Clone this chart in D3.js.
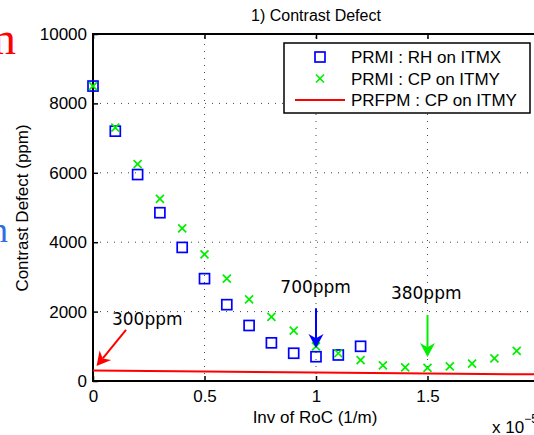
<!DOCTYPE html>
<html>
<head>
<meta charset="utf-8">
<script src="https://cdn.jsdelivr.net/npm/d3@7"></script>
<style>
  body { margin: 0; background: #fff; }
  svg { display: block; }
  text { font-family: "Liberation Sans", Arial, Helvetica, sans-serif; }
</style>
</head>
<body>
<div id="chart"></div>
<script>
// PRMI : RH on ITMX (blue squares)
const invRoCRH = [0, 0.1, 0.2, 0.3, 0.4, 0.5, 0.6, 0.7, 0.8, 0.9, 1.0, 1.1, 1.2];
const defectRH = [8500, 7200, 5950, 4850, 3850, 2950, 2200, 1600, 1100, 800, 700, 750, 1000];

// PRMI : CP on ITMY (green crosses)
const invRoCCP = [0, 0.1, 0.2, 0.3, 0.4, 0.5, 0.6, 0.7, 0.8, 0.9, 1.0, 1.1, 1.2, 1.3, 1.4, 1.5, 1.6, 1.7, 1.8, 1.9];
const defectCP = [8500, 7300, 6250, 5250, 4400, 3650, 2950, 2350, 1850, 1450, 1000, 800, 600, 450, 390, 380, 420, 500, 650, 870];

// PRFPM : CP on ITMY (red line)
const invRoCFP = [0, 0.5, 1.0, 1.5, 2.0];
const defectFP = [300, 275, 245, 215, 190];

const xTicks = [0, 0.5, 1, 1.5, 2];
const xTickLabels = ["0", "0.5", "1", "1.5", ""]; // "2" falls outside the window
const yTicks = [0, 2000, 4000, 6000, 8000, 10000];
const legendLabels = ["PRMI : RH on ITMX", "PRMI : CP on ITMY", "PRFPM : CP on ITMY"];

// annotations: label, label anchor, arrow start, arrow tip (data units)
const notes = [
  { text: "300ppm", at: [0.085, 1600], from: [0.148, 1470], to: [0.016, 430], color: "#ff0000" },
  { text: "700ppm", at: [0.84, 2530], from: [1.0, 2100], to: [1.0, 950], color: "#0000ff" },
  { text: "380ppm", at: [1.336, 2350], from: [1.5, 1900], to: [1.5, 690], color: "#00ee00" }
];

let width = 534,
  height = 435,
  margin = { top: 34, left: 93, bottom: 54 };

const svg = d3
  .select("#chart")
  .append("svg")
  .attr("width", width)
  .attr("height", height);

let x = d3.scaleLinear().domain([0, 2]).range([margin.left, 539]);
let y = d3
  .scaleLinear()
  .domain([0, 10000])
  .range([height - margin.bottom, margin.top]);

// cut-off words from the neighbouring slide text
svg.append("text").text("m").attr("x", 16).attr("y", 54)
  .attr("text-anchor", "end").attr("fill", "#ff0000")
  .style("font-family", "'Liberation Serif', 'Times New Roman', serif")
  .style("font-size", "46px");
svg.append("text").text("n").attr("x", 8).attr("y", 242)
  .attr("text-anchor", "end").attr("fill", "#2f6fe6")
  .style("font-family", "'Liberation Serif', 'Times New Roman', serif")
  .style("font-size", "36px");

// dotted grid
svg.append("g")
  .selectAll("line")
  .data(xTicks.slice(1))
  .join("line")
  .attr("x1", (d) => x(d)).attr("x2", (d) => x(d))
  .attr("y1", y(0)).attr("y2", y(10000))
  .attr("stroke", "#444").attr("stroke-width", 1)
  .attr("stroke-dasharray", "1,6");
svg.append("g")
  .selectAll("line")
  .data(yTicks.slice(1, -1))
  .join("line")
  .attr("x1", x(0)).attr("x2", x(2))
  .attr("y1", (d) => y(d)).attr("y2", (d) => y(d))
  .attr("stroke", "#444").attr("stroke-width", 1)
  .attr("stroke-dasharray", "1,6");

// axes, ticks pointing inward
let xAxis = svg.append("g")
  .attr("transform", `translate(0,${y(0)})`)
  .call(d3.axisBottom(x).tickValues(xTicks).tickSize(-5).tickPadding(9)
    .tickFormat((d, i) => xTickLabels[i]));
let xTop = svg.append("g")
  .attr("transform", `translate(0,${y(10000)})`)
  .call(d3.axisTop(x).tickValues(xTicks).tickSize(-5).tickFormat(""));
let yAxis = svg.append("g")
  .attr("transform", `translate(${x(0)},0)`)
  .call(d3.axisLeft(y).tickValues(yTicks).tickSize(-5).tickPadding(6)
    .tickFormat(d3.format("d")));

for (let g of [xAxis, xTop, yAxis]) {
  g.select(".domain").remove();
  g.selectAll(".tick line").attr("stroke", "#000").attr("stroke-width", 1.5);
  g.selectAll("text").attr("fill", "#000").style("font-size", "17px")
    .style("font-family", "'Liberation Sans', Arial, sans-serif");
}

// frame
svg.append("path")
  .attr("d", `M${x(2) + 1},${y(10000)}H${x(0)}V${y(0)}H${x(2) + 1}`)
  .attr("fill", "none").attr("stroke", "#000").attr("stroke-width", 2);

// red line
let line = d3.line().x((d, i) => x(invRoCFP[i])).y((d) => y(d));
svg.append("path")
  .datum(defectFP)
  .attr("d", line)
  .attr("fill", "none").attr("stroke", "#ff0000").attr("stroke-width", 2);

// blue squares
svg.append("g")
  .selectAll("rect")
  .data(defectRH)
  .join("rect")
  .attr("x", (d, i) => x(invRoCRH[i]) - 5)
  .attr("y", (d) => y(d) - 5)
  .attr("width", 10).attr("height", 10)
  .attr("fill", "none").attr("stroke", "#0000ff").attr("stroke-width", 1.7);

// green crosses
let cross = (cx, cy, r) => `M${cx - r},${cy - r}L${cx + r},${cy + r}M${cx - r},${cy + r}L${cx + r},${cy - r}`;
svg.append("g")
  .selectAll("path")
  .data(defectCP)
  .join("path")
  .attr("d", (d, i) => cross(x(invRoCCP[i]), y(d), 4))
  .attr("stroke", "#00ee00").attr("stroke-width", 1.7);

// annotations
function arrow(x1, y1, x2, y2, color) {
  let ang = Math.atan2(y2 - y1, x2 - x1),
    len = 14,
    half = 7.5;
  let bx = x2 - len * Math.cos(ang),
    by = y2 - len * Math.sin(ang);
  let nx = x2 - len * 0.7 * Math.cos(ang),
    ny = y2 - len * 0.7 * Math.sin(ang);
  let px = -Math.sin(ang) * half,
    py = Math.cos(ang) * half;
  svg.append("line")
    .attr("x1", x1).attr("y1", y1).attr("x2", nx).attr("y2", ny)
    .attr("stroke", color).attr("stroke-width", 2);
  svg.append("path")
    .attr("d", `M${x2},${y2}L${bx + px},${by + py}L${nx},${ny}L${bx - px},${by - py}Z`)
    .attr("fill", color);
}

for (let n of notes) {
  svg.append("text").text(n.text)
    .attr("x", x(n.at[0])).attr("y", y(n.at[1]))
    .attr("fill", "#000")
    .style("font-family", "'DejaVu Sans', Verdana, sans-serif")
    .style("font-size", "17px");
  arrow(x(n.from[0]), y(n.from[1]), x(n.to[0]), y(n.to[1]), n.color);
}

// legend
let lg = svg.append("g");
lg.append("rect")
  .attr("x", 284).attr("y", 43).attr("width", 246).attr("height", 70)
  .attr("fill", "#fff").attr("stroke", "#000").attr("stroke-width", 1.5);
legendLabels.forEach((t, i) => {
  let cy = 57 + i * 21.5;
  if (i === 0) {
    lg.append("rect").attr("x", 315).attr("y", cy - 5).attr("width", 10).attr("height", 10)
      .attr("fill", "none").attr("stroke", "#0000ff").attr("stroke-width", 1.7);
  } else if (i === 1) {
    lg.append("path").attr("d", cross(320, cy, 4))
      .attr("stroke", "#00ee00").attr("stroke-width", 1.7);
  } else {
    lg.append("line").attr("x1", 295).attr("x2", 345).attr("y1", cy).attr("y2", cy)
      .attr("stroke", "#ff0000").attr("stroke-width", 2);
  }
  lg.append("text").text(t)
    .attr("x", 351).attr("y", cy + 6)
    .style("font-size", "17px").attr("fill", "#000");
});

// titles
svg.append("text").text("1) Contrast Defect")
  .attr("x", 316).attr("y", 21).attr("text-anchor", "middle")
  .style("font-size", "16px");
svg.append("text").text("Inv of RoC (1/m)")
  .attr("x", 315).attr("y", 423).attr("text-anchor", "middle")
  .style("font-size", "17px");
svg.append("text").text("Contrast Defect (ppm)")
  .attr("transform", "translate(28,208) rotate(-90)")
  .attr("text-anchor", "middle")
  .style("font-size", "17px");

let ex = svg.append("text").attr("x", 492).attr("y", 433).style("font-size", "17px");
ex.append("tspan").text("x 10");
ex.append("tspan").text("\u22125").attr("dy", -10).style("font-size", "12px");
</script>
</body>
</html>
